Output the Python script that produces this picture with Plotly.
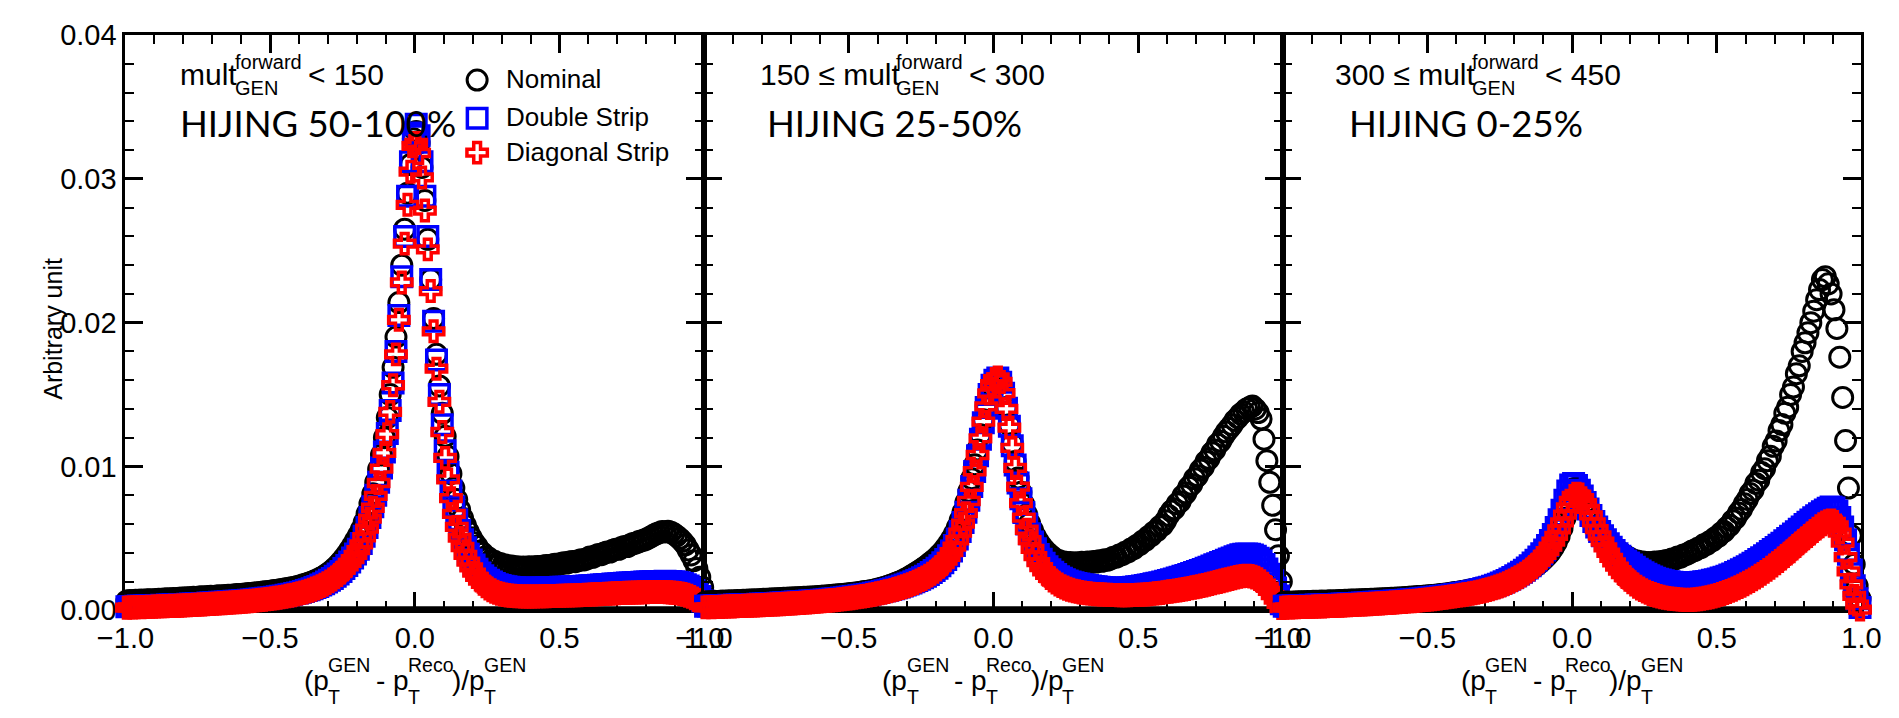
import plotly.graph_objects as go

W, H = 1899, 718

# ---------------- data ----------------
# histogram bin centres of (pT_GEN - pT_Reco)/pT_GEN, 200 bins of width 0.01
x_bins = [round(-0.995 + 0.01 * i, 3) for i in range(200)]

# bin contents in units of 1e-5 (arbitrary unit)
# panel 1 : mult < 150  (HIJING 50-100%)
nominal_p1 = [
    65, 68, 66, 70, 69, 72, 70, 73, 74, 72, 75, 77, 76, 78, 80, 79, 82, 81, 84, 85,
    86, 88, 87, 90, 89, 92, 94, 93, 95, 97, 96, 99, 101, 100, 103, 105, 104, 107, 109, 110,
    112, 114, 117, 116, 120, 122, 124, 127, 129, 131, 134, 137, 139, 142, 146, 149, 153, 157, 161, 166,
    171, 177, 183, 190, 197, 205, 214, 224, 235, 248, 262, 278, 296, 316, 338, 362, 389, 418, 450, 485,
    520, 560, 610, 670, 740, 810, 890, 980, 1080, 1200, 1340, 1500, 1690, 1900, 2140, 2400, 2650, 2900, 3100, 3280,
    3330, 3250, 3080, 2850, 2580, 2300, 2030, 1780, 1560, 1370, 1210, 1070, 950, 850, 770, 700, 640, 590, 545, 505,
    470, 445, 412, 396, 372, 363, 345, 341, 327, 326, 314, 315, 305, 308, 299, 303, 296, 301, 295, 302,
    300, 302, 305, 303, 308, 312, 310, 315, 320, 318, 325, 330, 328, 335, 340, 338, 345, 352, 350, 358,
    370, 368, 380, 388, 387, 398, 406, 405, 418, 425, 424, 436, 444, 443, 455, 464, 468, 478, 484, 490,
    500, 510, 522, 532, 540, 548, 545, 550, 542, 532, 517, 500, 480, 455, 420, 385, 345, 290, 230, 160,
]
double_p1 = [
    25, 27, 26, 28, 29, 28, 30, 31, 32, 31, 33, 34, 35, 34, 36, 37, 38, 37, 39, 40,
    41, 42, 43, 44, 45, 46, 47, 48, 50, 51, 52, 53, 55, 56, 57, 59, 60, 62, 63, 65,
    66, 68, 70, 72, 74, 76, 78, 80, 83, 85, 88, 91, 94, 97, 100, 104, 108, 112, 116, 121,
    126, 131, 137, 143, 150, 158, 166, 175, 185, 196, 208, 221, 236, 252, 270, 290, 312, 336, 363, 392,
    425, 465, 515, 575, 645, 720, 800, 890, 990, 1100, 1230, 1390, 1580, 1800, 2050, 2320, 2600, 2880, 3120, 3320,
    3380, 3300, 3120, 2880, 2600, 2300, 2010, 1740, 1500, 1290, 1110, 960, 830, 720, 630, 555, 490, 435, 390, 350,
    315, 285, 260, 240, 222, 208, 196, 186, 178, 172, 167, 163, 160, 158, 156, 155, 154, 153, 153, 153,
    153, 154, 154, 155, 155, 156, 157, 157, 158, 159, 160, 160, 161, 162, 163, 164, 165, 166, 167, 168,
    170, 171, 173, 174, 176, 177, 179, 180, 182, 183, 185, 186, 188, 189, 190, 192, 193, 194, 195, 196,
    197, 198, 199, 200, 201, 201, 202, 201, 200, 198, 195, 191, 186, 178, 168, 155, 138, 118, 95, 65,
]
diagonal_p1 = [
    18, 20, 19, 21, 22, 21, 23, 24, 25, 24, 26, 27, 28, 27, 29, 30, 31, 30, 32, 33,
    34, 35, 36, 37, 38, 39, 40, 41, 43, 44, 45, 46, 48, 49, 50, 52, 53, 55, 56, 58,
    59, 61, 63, 65, 67, 69, 71, 73, 76, 78, 81, 84, 87, 90, 93, 97, 101, 105, 109, 114,
    119, 124, 130, 136, 143, 151, 159, 168, 178, 189, 201, 214, 229, 245, 263, 283, 305, 329, 356, 385,
    418, 458, 508, 568, 638, 713, 795, 885, 985, 1095, 1225, 1380, 1565, 1780, 2020, 2280, 2550, 2820, 3050, 3230,
    3250, 3180, 3010, 2780, 2510, 2220, 1940, 1680, 1450, 1240, 1060, 910, 780, 670, 580, 505, 440, 385, 338, 298,
    262, 232, 206, 184, 166, 151, 139, 129, 121, 115, 110, 106, 103, 101, 99, 98, 97, 96, 96, 96,
    96, 96, 97, 97, 98, 98, 99, 99, 100, 100, 101, 102, 102, 103, 104, 104, 105, 106, 107, 108,
    109, 110, 111, 112, 113, 114, 115, 116, 117, 118, 119, 120, 121, 122, 122, 123, 124, 124, 125, 125,
    126, 126, 127, 127, 127, 127, 126, 125, 124, 122, 120, 117, 113, 108, 101, 93, 83, 72, 58, 42,
]

# panel 2 : 150 <= mult < 300  (HIJING 25-50%)
nominal_p2 = [
    58, 60, 59, 62, 61, 63, 64, 63, 66, 65, 67, 68, 67, 70, 69, 71, 72, 73, 72, 75,
    76, 77, 78, 79, 80, 81, 82, 83, 84, 85, 86, 87, 88, 89, 90, 91, 92, 93, 94, 96,
    97, 99, 100, 102, 104, 106, 108, 110, 112, 114, 116, 118, 121, 124, 127, 130, 133, 136, 140, 144,
    150, 155, 161, 167, 174, 181, 189, 197, 206, 216, 227, 238, 250, 262, 275, 289, 303, 318, 334, 350,
    368, 388, 410, 435, 463, 495, 532, 575, 625, 683, 750, 827, 915, 1012, 1115, 1220, 1325, 1420, 1500, 1560,
    1595, 1610, 1580, 1510, 1410, 1290, 1160, 1035, 920, 820, 735, 665, 605, 555, 512, 477, 448, 423, 402, 384,
    368, 352, 347, 335, 336, 327, 333, 325, 331, 326, 334, 328, 336, 331, 340, 335, 345, 341, 351, 348,
    358, 368, 370, 385, 387, 404, 406, 426, 429, 451, 456, 480, 486, 511, 519, 545, 554, 582, 593, 622,
    660, 690, 705, 740, 755, 795, 815, 855, 875, 915, 935, 975, 995, 1035, 1055, 1095, 1115, 1155, 1175, 1210,
    1240, 1265, 1290, 1320, 1340, 1365, 1380, 1400, 1410, 1420, 1400, 1375, 1330, 1190, 1040, 890, 730, 560, 380, 200,
]
double_p2 = [
    28, 30, 29, 31, 32, 31, 33, 34, 35, 34, 36, 37, 38, 37, 39, 40, 41, 41, 42, 43,
    44, 45, 46, 47, 48, 49, 50, 52, 53, 54, 55, 57, 58, 59, 61, 62, 64, 65, 67, 68,
    70, 72, 74, 76, 78, 80, 82, 85, 87, 90, 92, 95, 98, 101, 104, 107, 110, 114, 118, 122,
    126, 130, 135, 140, 145, 150, 156, 162, 168, 175, 182, 190, 198, 207, 216, 226, 237, 249, 262, 276,
    292, 310, 330, 353, 380, 412, 450, 495, 548, 610, 682, 765, 860, 965, 1075, 1190, 1305, 1410, 1500, 1565,
    1600, 1615, 1585, 1510, 1405, 1280, 1145, 1010, 885, 775, 680, 600, 532, 475, 428, 388, 355, 327, 303, 282,
    264, 248, 234, 222, 212, 204, 197, 191, 186, 182, 178, 175, 172, 169, 166, 163, 161, 158, 156, 154,
    153, 152, 152, 153, 154, 155, 157, 159, 161, 163, 166, 169, 172, 176, 180, 184, 188, 192, 197, 202,
    207, 212, 218, 224, 230, 236, 242, 248, 255, 262, 269, 276, 284, 292, 300, 308, 316, 324, 332, 340,
    348, 356, 364, 372, 380, 386, 390, 392, 390, 385, 376, 362, 343, 318, 287, 250, 205, 155, 100, 45,
]
diagonal_p2 = [
    20, 22, 21, 23, 24, 23, 25, 26, 27, 26, 28, 29, 30, 29, 31, 32, 33, 33, 34, 35,
    36, 37, 38, 39, 40, 41, 42, 44, 45, 46, 47, 49, 50, 51, 53, 54, 56, 57, 59, 60,
    62, 64, 66, 68, 70, 72, 74, 77, 79, 82, 84, 87, 90, 93, 96, 99, 102, 106, 110, 114,
    118, 122, 127, 132, 137, 142, 148, 154, 160, 167, 174, 182, 190, 199, 208, 218, 229, 241, 254, 268,
    284, 302, 322, 345, 372, 404, 442, 487, 540, 602, 675, 760, 858, 967, 1080, 1196, 1312, 1418, 1508, 1572,
    1608, 1620, 1588, 1510, 1400, 1270, 1130, 990, 860, 745, 645, 560, 488, 427, 377, 335, 300, 271, 246, 225,
    207, 192, 179, 168, 158, 150, 143, 137, 132, 128, 124, 121, 118, 116, 114, 112, 111, 110, 109, 108,
    107, 106, 106, 105, 105, 105, 105, 106, 106, 107, 108, 109, 110, 112, 114, 116, 118, 120, 123, 126,
    129, 132, 135, 138, 141, 144, 148, 152, 156, 160, 164, 168, 172, 177, 182, 187, 192, 197, 202, 207,
    212, 217, 222, 227, 232, 236, 239, 240, 238, 234, 227, 217, 203, 185, 162, 135, 105, 74, 45, 15,
]

# panel 3 : 300 <= mult < 450  (HIJING 0-25%)
nominal_p3 = [
    55, 57, 56, 58, 57, 59, 60, 59, 61, 60, 62, 63, 62, 64, 63, 65, 66, 65, 67, 68,
    68, 69, 70, 71, 71, 72, 73, 74, 75, 75, 76, 77, 78, 79, 80, 81, 82, 83, 84, 85,
    86, 87, 89, 90, 92, 93, 95, 96, 98, 100, 101, 103, 105, 107, 109, 112, 114, 117, 120, 123,
    126, 129, 133, 136, 140, 144, 148, 152, 157, 162, 167, 172, 177, 183, 189, 195, 202, 209, 216, 224,
    232, 241, 250, 260, 271, 283, 296, 310, 326, 343, 362, 383, 407, 436, 471, 515, 570, 640, 720, 800,
    845, 850, 825, 790, 750, 705, 665, 625, 590, 560, 532, 505, 480, 458, 438, 420, 405, 390, 377, 365,
    355, 345, 343, 334, 336, 328, 333, 327, 335, 330, 340, 336, 347, 345, 357, 356, 370, 369, 385, 388,
    400, 412, 417, 432, 436, 455, 458, 477, 484, 505, 514, 537, 548, 575, 591, 623, 641, 677, 701, 740,
    770, 812, 835, 882, 905, 958, 985, 1040, 1072, 1140, 1178, 1250, 1292, 1370, 1412, 1500, 1552, 1645, 1700, 1800,
    1860, 1930, 2000, 2080, 2160, 2230, 2300, 2320, 2270, 2200, 2090, 1960, 1760, 1480, 1180, 850, 520, 320, 170, 80,
]
double_p3 = [
    28, 30, 29, 31, 30, 32, 33, 32, 34, 35, 34, 36, 37, 36, 38, 39, 40, 39, 41, 42,
    43, 44, 45, 46, 47, 48, 49, 50, 51, 52, 53, 55, 56, 57, 58, 60, 61, 62, 64, 65,
    67, 68, 70, 72, 73, 75, 77, 79, 81, 83, 85, 87, 90, 92, 95, 97, 100, 103, 106, 109,
    112, 115, 119, 122, 126, 130, 134, 139, 144, 149, 155, 161, 167, 174, 181, 189, 198, 207, 217, 228,
    240, 252, 265, 279, 294, 310, 328, 348, 370, 394, 420, 450, 485, 527, 575, 630, 695, 765, 830, 872,
    882, 868, 835, 795, 750, 705, 660, 618, 580, 548, 518, 490, 463, 438, 415, 394, 375, 358, 342, 328,
    315, 300, 286, 273, 261, 250, 240, 231, 223, 216, 210, 205, 201, 198, 195, 193, 191, 190, 189, 189,
    189, 190, 191, 193, 195, 198, 201, 204, 208, 213, 218, 224, 230, 237, 245, 253, 262, 271, 281, 292,
    303, 315, 327, 340, 353, 366, 380, 394, 408, 422, 437, 452, 467, 483, 499, 515, 531, 547, 563, 580,
    596, 612, 628, 643, 658, 672, 685, 698, 710, 718, 712, 690, 645, 580, 490, 390, 280, 170, 80, 20,
]
diagonal_p3 = [
    18, 20, 19, 21, 20, 22, 23, 22, 24, 25, 24, 26, 27, 26, 28, 29, 30, 29, 31, 32,
    33, 34, 35, 36, 37, 38, 39, 40, 41, 42, 43, 45, 46, 47, 48, 50, 51, 52, 54, 55,
    57, 58, 60, 62, 63, 65, 67, 69, 71, 73, 75, 77, 80, 82, 85, 87, 90, 93, 96, 99,
    102, 105, 108, 111, 114, 118, 122, 126, 131, 136, 141, 146, 152, 158, 165, 172, 180, 189, 198, 208,
    219, 230, 242, 255, 269, 284, 301, 319, 339, 361, 385, 412, 442, 477, 517, 562, 612, 665, 715, 760,
    795, 810, 805, 780, 745, 705, 660, 612, 565, 520, 478, 438, 400, 365, 333, 303, 276, 252, 231, 212,
    195, 179, 164, 151, 140, 130, 121, 113, 106, 100, 95, 90, 86, 83, 80, 78, 76, 74, 73, 72,
    72, 73, 75, 77, 80, 83, 87, 91, 96, 101, 107, 113, 120, 127, 135, 143, 152, 161, 171, 181,
    192, 203, 215, 227, 240, 253, 267, 281, 296, 311, 327, 343, 360, 377, 394, 411, 429, 447, 465, 483,
    500, 517, 534, 551, 568, 584, 598, 610, 620, 625, 615, 590, 540, 470, 370, 270, 180, 100, 40, 5,
]

UNIT = 1e-5
series_names = ["Nominal", "Double Strip", "Diagonal Strip"]
panel_labels = [("", "150"), ("150 \u2264 ", "300"), ("300 \u2264 ", "450")]
hijing_labels = ["HIJING 50-100%", "HIJING 25-50%", "HIJING 0-25%"]
panels = [
    [nominal_p1, double_p1, diagonal_p1],
    [nominal_p2, double_p2, diagonal_p2],
    [nominal_p3, double_p3, diagonal_p3],
]
for p in panels:
    for s in p:
        assert len(s) == len(x_bins), len(s)

# ---------------- styles / layout ----------------
MARKERS = [
    dict(symbol="circle-open", size=20, color="black", line=dict(width=3, color="black")),
    dict(symbol="square-open", size=19.5, color="#0000ff", line=dict(width=3.5, color="#0000ff")),
    dict(symbol="cross-open", size=17, color="#ff0000", line=dict(width=3.5, color="#ff0000")),
]
ARIAL = "Liberation Sans, Arial, Helvetica, sans-serif"
HIJ_FONT = "Lato, Carlito, Open Sans, sans-serif"

PANEL_LEFT = [99, 693, 1287]
PANEL_W = 594
TOP, BOTTOM = 20, 622

AW = {' ': 278, '(': 333, ')': 333, '/': 278, '-': 333, '<': 584, '\u2264': 549,
      'p': 556, 'G': 722, 'E': 667, 'N': 722, 'T': 611, 'R': 722, 'e': 556, 'c': 500,
      'o': 556, 'm': 833, 'u': 556, 'l': 222, 't': 278, 'f': 278, 'r': 333, 'w': 722,
      'a': 556, 'd': 556}


def tw(s, size):
    return sum(AW.get(ch, 556) for ch in s) * size / 1000.0


def ann(px, py, text, size, family=ARIAL, **kw):
    d = dict(x=px / W, y=1 - py / H, xref="paper", yref="paper", text=text,
             showarrow=False, xanchor="left", yanchor="middle",
             font=dict(family=family, size=size, color="black"), borderpad=0)
    d.update(kw)
    return d


def rich(x0, ymain, yup, ydown, parts, big, small):
    out = []
    x = x0
    for p in parts:
        if isinstance(p, str):
            stripped = p.lstrip(" ")
            x += tw(p[: len(p) - len(stripped)], big)
            out.append(ann(x, ymain, stripped, big))
            x += tw(stripped, big)
        else:
            sup, sub = p
            out.append(ann(x, yup, sup, small))
            out.append(ann(x, ydown, sub, small))
            x += max(tw(sup, small), tw(sub, small))
    return out


fig = go.Figure()
axis_ids = ["", "2", "3"]
for k, (pdata, aid) in enumerate(zip(panels, axis_ids)):
    for s, mk, nm in zip(pdata, MARKERS, series_names):
        fig.add_trace(go.Scatter(
            x=x_bins, y=[v * UNIT for v in s], mode="markers", name=nm,
            marker=mk, cliponaxis=False, showlegend=False,
            xaxis="x" + aid, yaxis="y" + aid))

xdom = lambda k: [PANEL_LEFT[k] / W, (PANEL_LEFT[k] + PANEL_W) / W]
ydom = [1 - BOTTOM / H, 1 - TOP / H]

layout = dict(width=W, height=H, margin=dict(l=0, r=0, t=0, b=0),
              paper_bgcolor="white", plot_bgcolor="rgba(0,0,0,0)", showlegend=False)
for k, aid in enumerate(axis_ids):
    layout["xaxis" + aid] = dict(
        domain=xdom(k), anchor="y" + aid, range=[-1, 1], tick0=0, dtick=0.5,
        tickformat=".1f", ticks="inside", ticklen=18, tickwidth=2.5, tickcolor="black",
        mirror="allticks", showline=True, linewidth=3, linecolor="black",
        showgrid=False, zeroline=False, layer="below traces",
        tickfont=dict(family=ARIAL, size=29, color="black"),
        minor=dict(dtick=0.1, tick0=0, ticks="inside", ticklen=9, tickwidth=2,
                   tickcolor="black", showgrid=False),
        fixedrange=True)
    layout["yaxis" + aid] = dict(
        domain=ydom, anchor="x" + aid, range=[0, 0.04], tick0=0, dtick=0.01,
        tickformat=".2f", ticks="inside", ticklen=18, tickwidth=2.5, tickcolor="black",
        mirror="allticks", showline=True, linewidth=3, linecolor="black",
        showgrid=False, zeroline=False, layer="below traces",
        showticklabels=(k == 0),
        tickfont=dict(family=ARIAL, size=29, color="black"),
        minor=dict(dtick=0.002, tick0=0, ticks="inside", ticklen=9, tickwidth=2,
                   tickcolor="black", showgrid=False),
        fixedrange=True)
# overlay pixel-space axes for the legend symbols
layout["xaxis4"] = dict(domain=[0, 1], range=[0, W], visible=False, anchor="y4", fixedrange=True)
layout["yaxis4"] = dict(domain=[0, 1], range=[H, 0], visible=False, anchor="x4", fixedrange=True)

shapes = []
for k, aid in enumerate(axis_ids):
    shapes.append(dict(type="line", xref="x" + aid, yref="y" + aid, x0=-1, x1=1, y0=0, y1=0,
                       line=dict(color="black", width=8), layer="below"))
layout["shapes"] = shapes

annotations = []
# legend
LEG_X, LEG_TX = 460, 489
LEG_Y = [67, 107, 143]
for mk, nm, ly in zip(MARKERS, series_names, LEG_Y):
    fig.add_trace(go.Scatter(x=[LEG_X], y=[ly], mode="markers", marker=mk,
                             xaxis="x4", yaxis="y4", showlegend=False, cliponaxis=False,
                             hoverinfo="skip"))
    annotations.append(ann(LEG_TX, ly - 1, nm, 26))

MULT_X = [154, 749, 1340]
HIJ_X = [154, 757, 1354]
for k in range(3):
    pre, hi = panel_labels[k]
    annotations += rich(MULT_X[k], 61.5, 48, 75,
                        [pre + "mult", ("forward", "GEN"), " < " + hi], 30, 20)
    annotations.append(ann(HIJ_X[k], 112, hijing_labels[k], 36.5, family=HIJ_FONT))
    annotations += rich(PANEL_LEFT[k] + 182, 695, 679, 713,
                        ["(p", ("GEN", "T"), " - p", ("Reco", "T"), ")/p", ("GEN", "T")],
                        28, 19.5)

annotations.append(dict(x=25 / W, y=1 - 327 / H, xref="paper", yref="paper",
                        text="Arbitrary unit", showarrow=False, textangle=-90,
                        xanchor="center", yanchor="middle",
                        font=dict(family=ARIAL, size=25, color="black")))
layout["annotations"] = annotations

fig.update_layout(**layout)
fig.write_html("out.html")
